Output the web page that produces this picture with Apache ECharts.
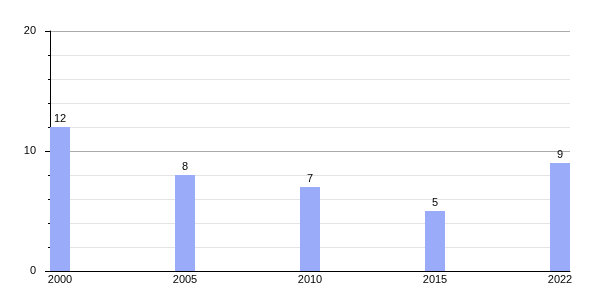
<!DOCTYPE html>
<html><head><meta charset="utf-8">
<script src="https://cdn.jsdelivr.net/npm/echarts@6/dist/echarts.min.js"></script>
<style>html,body{margin:0;padding:0;background:#fff}#c{width:600px;height:300px}</style>
</head><body><div id="c"></div>
<script>
var years = ['2000', '2005', '2010', '2015', '2022'];
var values = [12, 8, 7, 5, 9];
var yTicks = [0, 10, 20];

var chart = echarts.init(document.getElementById('c'), null, {renderer: 'canvas'});
var idx = years.map(function (y, i) { return i; });
chart.setOption({
  animation: false,
  textStyle: {fontFamily: 'Liberation Sans, Arial, sans-serif'},
  grid: {left: 50, right: 30, top: 31, bottom: 29, containLabel: false},
  xAxis: {
    type: 'value', min: -0.08, max: 4.08,
    axisLine: {show: true, onZero: false, lineStyle: {color: '#000', width: 1}},
    axisTick: {show: false},
    splitLine: {show: false},
    axisLabel: {
      customValues: idx, color: '#000', fontSize: 11, margin: 3,
      formatter: function (v) { return years[Math.round(v)]; }
    }
  },
  yAxis: {
    type: 'value', min: 0, max: 20, interval: 10,
    axisLine: {show: true, onZero: false, lineStyle: {color: '#000', width: 1}},
    axisTick: {show: true, length: 5, lineStyle: {color: '#000'}},
    minorTick: {show: true, splitNumber: 5, length: 2, lineStyle: {color: '#000'}},
    axisLabel: {color: '#000', fontSize: 11, margin: 14,
      customValues: yTicks},
    splitLine: {show: true, lineStyle: {color: '#aaaaaa', width: 1}},
    minorSplitLine: {show: true, lineStyle: {color: '#e4e4e4', width: 1}}
  },
  series: [{
    type: 'bar',
    barWidth: 20,
    data: values.map(function (v, i) { return [i, v]; }),
    itemStyle: {color: '#9aabfa'},
    label: {show: true, position: 'top', color: '#000', fontSize: 11, distance: 3,
      formatter: function (p) { return p.value[1]; }}
  }]
});
</script></body></html>
